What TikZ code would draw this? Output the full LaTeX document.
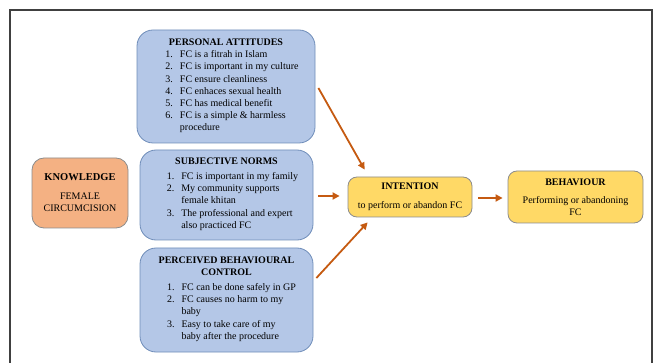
\documentclass[tikz,border=0pt]{standalone}
\usepackage{fontspec}
\setmainfont{Liberation Serif}
\usetikzlibrary{arrows.meta,calc}
\definecolor{bluefill}{HTML}{B4C7E7}
\definecolor{blueline}{HTML}{6F8DB9}
\definecolor{orangefill}{HTML}{F4B183}
\definecolor{yellowfill}{HTML}{FFD966}
\definecolor{greyline}{HTML}{8C8C8C}
\definecolor{arrowcol}{HTML}{C55A11}
\newcommand{\bodyfont}{\fontsize{10}{12.2}\selectfont}
\newcommand{\titlefont}{\fontsize{10}{12}\selectfont\bfseries}
\begin{document}
\begin{tikzpicture}[x=1pt,y=-1pt,
  bluebox/.style={draw=blueline,fill=bluefill,line width=0.8pt,rounded corners=16pt,align=center,inner sep=0pt},
  orangebox/.style={draw=greyline,fill=orangefill,line width=0.8pt,rounded corners=12pt,align=center,inner sep=0pt},
  yellowbox/.style={draw=greyline,fill=yellowfill,line width=0.8pt,rounded corners=9pt,align=center,inner sep=0pt},
  arr/.style={draw=arrowcol,line width=1.8pt,-{Triangle[length=7pt,width=7pt]}},
  frameline/.style={draw=black!75,line width=1.2pt}]
\useasboundingbox (0,0) rectangle (658,363);
\draw[frameline] (10,363) -- (10,10) -- (652,10) -- (652,363);

\node[bluebox,minimum width=178pt,minimum height=113pt] (PA) at (226,86.5) {%
  {\titlefont PERSONAL ATTITUDES}\\[3pt]
  \hspace*{12pt}\bodyfont\begin{tabular}{@{}r@{\hspace{7pt}}l@{}}
  1. & FC is a fitrah in Islam\\
  2. & FC is important in my culture\\
  3. & FC ensure cleanliness\\
  4. & FC enhaces sexual health\\
  5. & FC has medical benefit\\
  6. & FC is a simple \& harmless\\
     & procedure
  \end{tabular}};

\node[bluebox,minimum width=173pt,minimum height=90pt] (SN) at (226.5,195) {%
  {\titlefont SUBJECTIVE NORMS}\\[5pt]
  \hspace*{12pt}\bodyfont\begin{tabular}{@{}r@{\hspace{7pt}}l@{}}
  1. & FC is important in my family\\
  2. & My community supports\\
     & female khitan\\
  3. & The professional and expert\\
     & also practiced FC
  \end{tabular}};

\node[bluebox,minimum width=173pt,minimum height=104pt] (PBC) at (226.5,300) {%
  {\titlefont PERCEIVED BEHAVIOURAL}\\
  {\titlefont CONTROL}\\[5pt]
  \hspace*{10pt}\bodyfont\begin{tabular}{@{}r@{\hspace{7pt}}l@{}}
  1. & FC can be done safely in GP\\
  2. & FC causes no harm to my\\
     & baby\\
  3. & Easy to take care of my\\
     & baby after the procedure
  \end{tabular}};

\node[orangebox,minimum width=96pt,minimum height=70pt] (KN) at (80,193) {%
  {\fontsize{10.5}{12}\selectfont\bfseries KNOWLEDGE}\\[7pt]
  \bodyfont FEMALE\\ \bodyfont CIRCUMCISION};

\node[yellowbox,minimum width=124pt,minimum height=40pt] (INT) at (410,197) {%
  {\titlefont INTENTION}\\[7pt]
  \bodyfont to perform or abandon FC};

\node[yellowbox,minimum width=135pt,minimum height=52pt] (BEH) at (575.5,197) {%
  {\titlefont BEHAVIOUR}\\[6pt]
  \bodyfont Performing or abandoning\\ \bodyfont FC};

\draw[arr] ($(PA.east)+(3,1.5)$) -- ($(INT.north west)+(17,-7)$);
\draw[arr] ($(SN.east)+(5,1)$) -- ($(INT.west)+(-8,-1)$);
\draw[arr] ($(PBC.east)+(3,-22)$) -- ($(INT.south west)+(20,5)$);
\draw[arr] ($(INT.east)+(6,1)$) -- ($(BEH.west)+(-5,1)$);
\end{tikzpicture}
\end{document}
